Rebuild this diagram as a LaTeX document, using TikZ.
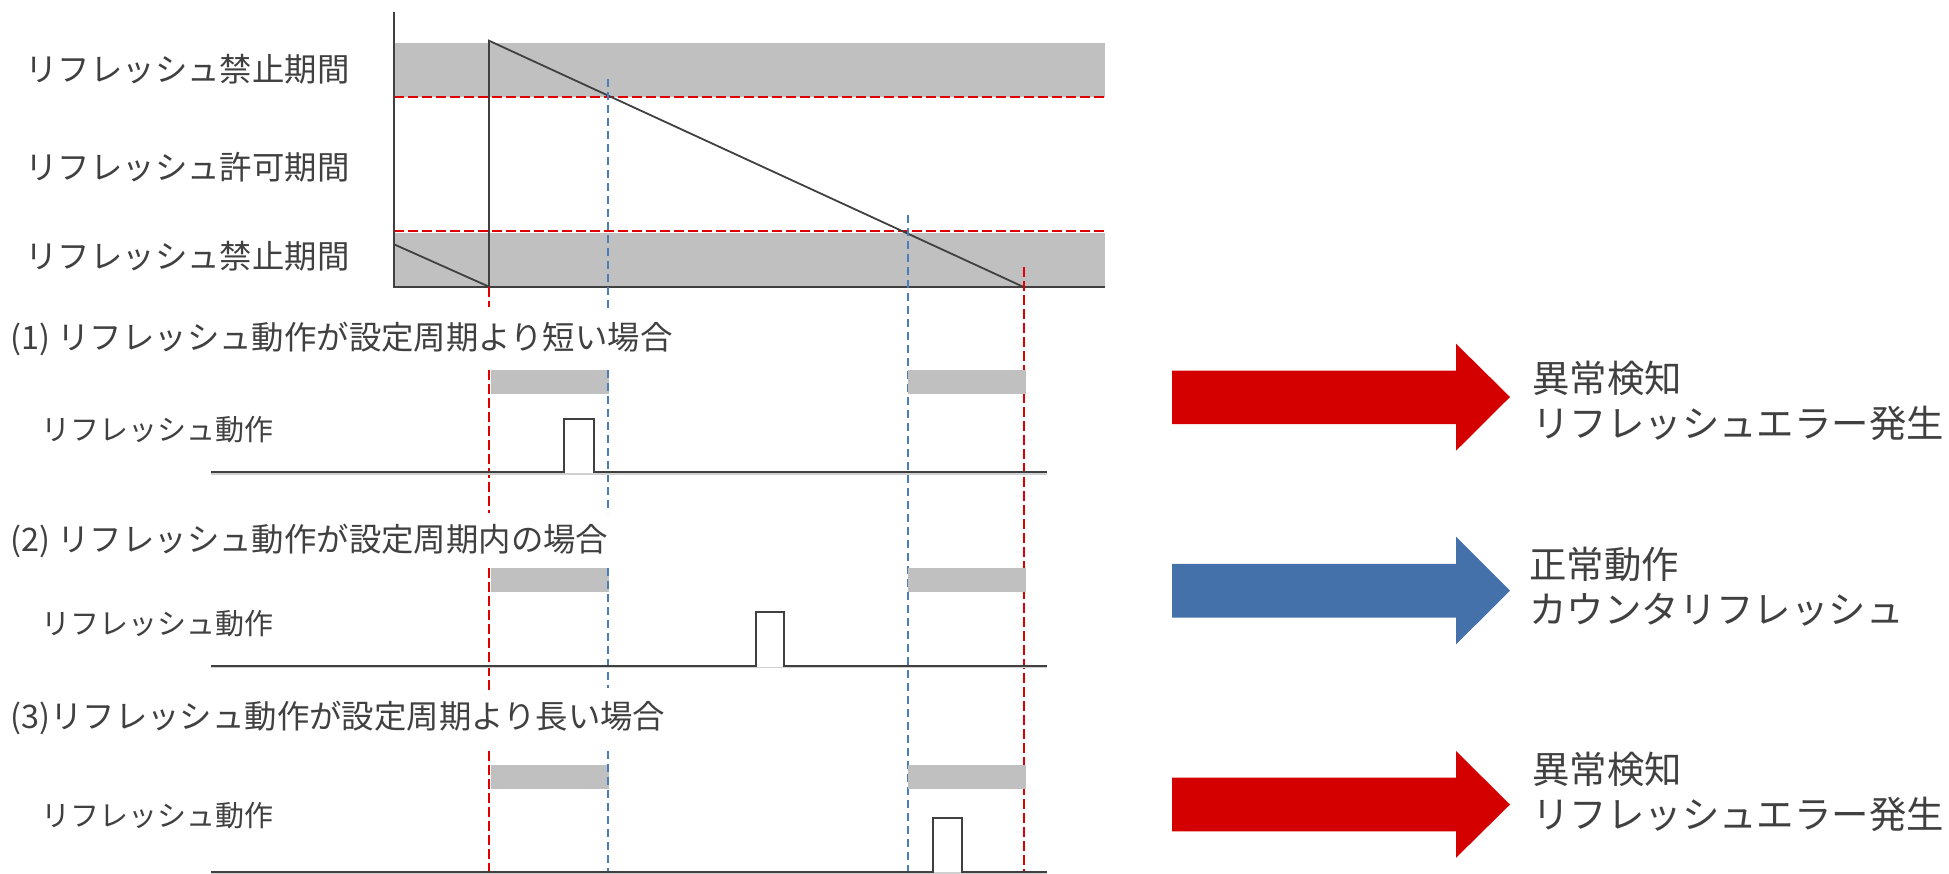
\documentclass[tikz,border=0pt]{standalone}
\usepackage{fontspec}
\setmainfont{Noto Sans CJK JP}
\definecolor{txt}{HTML}{404040}
\definecolor{axis}{HTML}{404040}
\definecolor{band}{HTML}{C0C0C0}
\definecolor{rdash}{HTML}{E00000}
\definecolor{bdash}{HTML}{4A7EBB}
\definecolor{rarrow}{HTML}{D40000}
\definecolor{barrow}{HTML}{4571AA}
\definecolor{lgray}{HTML}{D0D0D0}
\tikzset{
  lab/.style={inner sep=0pt, text=txt, anchor=west, font=\fontsize{16.2}{19}\selectfont},
  sublab/.style={inner sep=0pt, text=txt, anchor=west, font=\fontsize{14.5}{17}\selectfont},
  reslab/.style={inner sep=0pt, text=txt, anchor=west, align=left, font=\fontsize{18.7}{22.5}\selectfont},
  reddash/.style={draw=rdash, line width=1.1pt, dash pattern=on 5pt off 2pt},
  bluedash/.style={draw=bdash, line width=1.1pt, dash pattern=on 4pt off 2.5pt},
  axisline/.style={draw=axis, line width=1.2pt},
  thinline/.style={draw=axis, line width=0.9pt},
  sig/.style={draw=axis, line width=1pt},
  bandfill/.style={fill=band},
}
\begin{document}
\begin{tikzpicture}[x=0.5pt,y=-0.5pt]
\useasboundingbox (0,0) rectangle (1949,873);

% ---------- top graph ----------
\fill[bandfill] (394,43) rectangle (1105,96.7);
\fill[bandfill] (394,233.3) rectangle (1105,286.7);
\coordinate (h1a) at (394,96.7); \coordinate (h1b) at (1105,96.7);
\coordinate (h2a) at (394,231); \coordinate (h2b) at (1105,231);
\draw[reddash] (h1a) -- (h1b);
\draw[reddash] (h2a) -- (h2b);
\coordinate (o) at (394,286.7);
\coordinate (ytop) at (394,12);
\coordinate (xend) at (1105,286.7);
\coordinate (r0) at (489,286.7);
\coordinate (peak) at (489,40.7);
\coordinate (r1) at (1023,286.7);
\coordinate (s0) at (394,244.3);
\draw[thinline] (s0) -- (r0);
\draw[thinline] (r0) -- (peak) -- (r1);
\draw[axisline] (ytop) -- (o) -- (xend);

% vertical dashed guides
\coordinate (ra0) at (489,287); \coordinate (ra1) at (489,307);
\draw[reddash] (ra0) -- (ra1);
\coordinate (ba0) at (608,79); \coordinate (ba1) at (608,310);
\draw[bluedash] (ba0) -- (ba1);
\coordinate (bb0) at (908,215); \coordinate (bb1) at (908,873);
\draw[bluedash] (bb0) -- (bb1);
\coordinate (rb0) at (1024,267); \coordinate (rb1) at (1024,873);
\draw[reddash] (rb0) -- (rb1);

% labels of the top graph
\node[lab] (t1) at (25,69.5) {リフレッシュ禁止期間};
\node[lab] (t2) at (25,167) {リフレッシュ許可期間};
\node[lab] (t3) at (25,256) {リフレッシュ禁止期間};

% ---------- cases ----------
% case 1
\node[lab] (c1) at (10,338.5) {(1) リフレッシュ動作が設定周期より短い場合};
\fill[bandfill] (491,370) rectangle (608.7,394);
\fill[bandfill] (908,370) rectangle (1025.7,394);
\draw[reddash] (489,370) -- (489,513);
\draw[bluedash] (608,370) -- (608,513);
\node[sublab] (a1) at (41,429.5) {リフレッシュ動作};
\draw[lgray, line width=0.8pt] (211,474) -- (1047,474);
\draw[sig] (211,472.3) -- (564.3,472.3) -- (564.3,419.3) -- (593.7,419.3) -- (593.7,472.3) -- (1047,472.3);

% case 2
\node[lab] (c2) at (10,541) {(2) リフレッシュ動作が設定周期内の場合};
\fill[bandfill] (491,568) rectangle (608.7,592);
\fill[bandfill] (908,568) rectangle (1025.7,592);
\draw[reddash] (489,568) -- (489,690);
\draw[bluedash] (608,568) -- (608,688);
\node[sublab] (a2) at (41,624) {リフレッシュ動作};
\draw[lgray, line width=0.8pt] (211,667.4) -- (1047,667.4);
\draw[sig] (211,665.7) -- (755.6,665.7) -- (755.6,612.3) -- (784.4,612.3) -- (784.4,665.7) -- (1047,665.7);

% case 3
\node[lab] (c3) at (10,717.5) {(3)リフレッシュ動作が設定周期より長い場合};
\fill[bandfill] (491,765) rectangle (608.7,789);
\fill[bandfill] (908,765) rectangle (1025.7,789);
\draw[reddash] (489,751) -- (489,873);
\draw[bluedash] (608,751) -- (608,873);
\node[sublab] (a3) at (41,816) {リフレッシュ動作};
\draw[lgray, line width=0.8pt] (211,873) -- (1047,873);
\draw[sig] (211,871.7) -- (933,871.7) -- (933,818.3) -- (962,818.3) -- (962,871.7) -- (1047,871.7);

% ---------- result arrows ----------
\fill[rarrow] (1172,370.5) -- (1456,370.5) -- (1456,343.7) -- (1510,397) -- (1456,450.7) -- (1456,424) -- (1172,424) -- cycle;
\fill[barrow] (1172,563.8) -- (1456,563.8) -- (1456,536.6) -- (1510,590.6) -- (1456,644.4) -- (1456,617.5) -- (1172,617.5) -- cycle;
\fill[rarrow] (1172,777.6) -- (1456,777.6) -- (1456,751) -- (1510,804.5) -- (1456,857.8) -- (1456,831.3) -- (1172,831.3) -- cycle;

\node[reslab] (e1) at (1532,400.5) {異常検知\\リフレッシュエラー発生};
\node[reslab] (e2) at (1529,587) {正常動作\\カウンタリフレッシュ};
\node[reslab] (e3) at (1532,791.5) {異常検知\\リフレッシュエラー発生};
\end{tikzpicture}
\end{document}
